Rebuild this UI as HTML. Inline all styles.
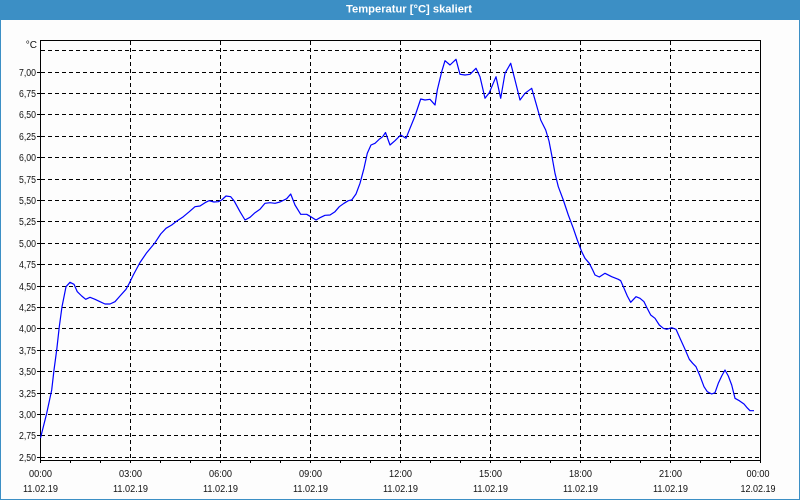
<!DOCTYPE html>
<html>
<head>
<meta charset="utf-8">
<style>
  html,body{margin:0;padding:0;background:#fdfdfd;}
  body{width:800px;height:500px;overflow:hidden;}
  svg{display:block;}
  text{font-family:"Liberation Sans","DejaVu Sans",sans-serif;}
</style>
</head>
<body>
<svg width="800" height="500" viewBox="0 0 800 500" xmlns="http://www.w3.org/2000/svg">
  <!-- background -->
  <rect x="0" y="0" width="800" height="500" fill="#fdfdfd"/>
  <!-- title bar -->
  <rect x="0" y="0" width="800" height="20" fill="#3c8fc5"/>
  <text x="409" y="12.5" font-size="11" font-weight="bold" fill="#ffffff" text-anchor="middle" textLength="126" lengthAdjust="spacingAndGlyphs">Temperatur [°C] skaliert</text>
  <!-- window border -->
  <rect x="0" y="20" width="1" height="480" fill="#3c8fc5"/>
  <rect x="799" y="20" width="1" height="480" fill="#3c8fc5"/>
  <rect x="0" y="499" width="800" height="1" fill="#3c8fc5"/>

  <!-- horizontal dashed gridlines -->
  <g stroke="#000" stroke-width="1" stroke-dasharray="4,3" shape-rendering="crispEdges" fill="none">
    <line x1="41" x2="760" y1="50.5" y2="50.5"/>
    <line x1="41" x2="760" y1="72.5" y2="72.5"/>
    <line x1="41" x2="760" y1="93.5" y2="93.5"/>
    <line x1="41" x2="760" y1="114.5" y2="114.5"/>
    <line x1="41" x2="760" y1="136.5" y2="136.5"/>
    <line x1="41" x2="760" y1="157.5" y2="157.5"/>
    <line x1="41" x2="760" y1="179.5" y2="179.5"/>
    <line x1="41" x2="760" y1="200.5" y2="200.5"/>
    <line x1="41" x2="760" y1="221.5" y2="221.5"/>
    <line x1="41" x2="760" y1="243.5" y2="243.5"/>
    <line x1="41" x2="760" y1="264.5" y2="264.5"/>
    <line x1="41" x2="760" y1="286.5" y2="286.5"/>
    <line x1="41" x2="760" y1="307.5" y2="307.5"/>
    <line x1="41" x2="760" y1="328.5" y2="328.5"/>
    <line x1="41" x2="760" y1="350.5" y2="350.5"/>
    <line x1="41" x2="760" y1="371.5" y2="371.5"/>
    <line x1="41" x2="760" y1="393.5" y2="393.5"/>
    <line x1="41" x2="760" y1="414.5" y2="414.5"/>
    <line x1="41" x2="760" y1="435.5" y2="435.5"/>
    <line x1="41" x2="760" y1="457.5" y2="457.5"/>
  </g>
  <!-- vertical dashed gridlines -->
  <g stroke="#000" stroke-width="1" stroke-dasharray="4,3" shape-rendering="crispEdges" fill="none">
    <line x1="130.5" x2="130.5" y1="41" y2="460"/>
    <line x1="220.5" x2="220.5" y1="41" y2="460"/>
    <line x1="310.5" x2="310.5" y1="41" y2="460"/>
    <line x1="400.5" x2="400.5" y1="41" y2="460"/>
    <line x1="490.5" x2="490.5" y1="41" y2="460"/>
    <line x1="580.5" x2="580.5" y1="41" y2="460"/>
    <line x1="670.5" x2="670.5" y1="41" y2="460"/>
  </g>

  <!-- axes box -->
  <g stroke="#000" stroke-width="1" shape-rendering="crispEdges" fill="none">
    <line x1="40.5" x2="40.5" y1="40" y2="463"/>
    <line x1="760.5" x2="760.5" y1="40" y2="463"/>
    <line x1="40" x2="761" y1="40.5" y2="40.5"/>
    <line x1="40" x2="761" y1="460.5" y2="460.5"/>
    <!-- left ticks -->
    <line x1="37" x2="40" y1="72.5" y2="72.5"/>
    <line x1="37" x2="40" y1="93.5" y2="93.5"/>
    <line x1="37" x2="40" y1="114.5" y2="114.5"/>
    <line x1="37" x2="40" y1="136.5" y2="136.5"/>
    <line x1="37" x2="40" y1="157.5" y2="157.5"/>
    <line x1="37" x2="40" y1="179.5" y2="179.5"/>
    <line x1="37" x2="40" y1="200.5" y2="200.5"/>
    <line x1="37" x2="40" y1="221.5" y2="221.5"/>
    <line x1="37" x2="40" y1="243.5" y2="243.5"/>
    <line x1="37" x2="40" y1="264.5" y2="264.5"/>
    <line x1="37" x2="40" y1="286.5" y2="286.5"/>
    <line x1="37" x2="40" y1="307.5" y2="307.5"/>
    <line x1="37" x2="40" y1="328.5" y2="328.5"/>
    <line x1="37" x2="40" y1="350.5" y2="350.5"/>
    <line x1="37" x2="40" y1="371.5" y2="371.5"/>
    <line x1="37" x2="40" y1="393.5" y2="393.5"/>
    <line x1="37" x2="40" y1="414.5" y2="414.5"/>
    <line x1="37" x2="40" y1="435.5" y2="435.5"/>
    <line x1="37" x2="40" y1="457.5" y2="457.5"/>
    <!-- bottom hourly ticks -->
    <line x1="70.5" x2="70.5" y1="461" y2="463"/>
    <line x1="100.5" x2="100.5" y1="461" y2="463"/>
    <line x1="130.5" x2="130.5" y1="461" y2="463"/>
    <line x1="160.5" x2="160.5" y1="461" y2="463"/>
    <line x1="190.5" x2="190.5" y1="461" y2="463"/>
    <line x1="220.5" x2="220.5" y1="461" y2="463"/>
    <line x1="250.5" x2="250.5" y1="461" y2="463"/>
    <line x1="280.5" x2="280.5" y1="461" y2="463"/>
    <line x1="310.5" x2="310.5" y1="461" y2="463"/>
    <line x1="340.5" x2="340.5" y1="461" y2="463"/>
    <line x1="370.5" x2="370.5" y1="461" y2="463"/>
    <line x1="400.5" x2="400.5" y1="461" y2="463"/>
    <line x1="430.5" x2="430.5" y1="461" y2="463"/>
    <line x1="460.5" x2="460.5" y1="461" y2="463"/>
    <line x1="490.5" x2="490.5" y1="461" y2="463"/>
    <line x1="520.5" x2="520.5" y1="461" y2="463"/>
    <line x1="550.5" x2="550.5" y1="461" y2="463"/>
    <line x1="580.5" x2="580.5" y1="461" y2="463"/>
    <line x1="610.5" x2="610.5" y1="461" y2="463"/>
    <line x1="640.5" x2="640.5" y1="461" y2="463"/>
    <line x1="670.5" x2="670.5" y1="461" y2="463"/>
    <line x1="700.5" x2="700.5" y1="461" y2="463"/>
    <line x1="730.5" x2="730.5" y1="461" y2="463"/>
  </g>

  <!-- y labels -->
  <g font-size="10" fill="#111" text-anchor="end">
    <text x="37" y="48">°C</text>
    <text x="36" y="76" textLength="17" lengthAdjust="spacingAndGlyphs">7,00</text>
    <text x="36" y="97" textLength="17" lengthAdjust="spacingAndGlyphs">6,75</text>
    <text x="36" y="118" textLength="17" lengthAdjust="spacingAndGlyphs">6,50</text>
    <text x="36" y="140" textLength="17" lengthAdjust="spacingAndGlyphs">6,25</text>
    <text x="36" y="161" textLength="17" lengthAdjust="spacingAndGlyphs">6,00</text>
    <text x="36" y="183" textLength="17" lengthAdjust="spacingAndGlyphs">5,75</text>
    <text x="36" y="204" textLength="17" lengthAdjust="spacingAndGlyphs">5,50</text>
    <text x="36" y="225" textLength="17" lengthAdjust="spacingAndGlyphs">5,25</text>
    <text x="36" y="247" textLength="17" lengthAdjust="spacingAndGlyphs">5,00</text>
    <text x="36" y="268" textLength="17" lengthAdjust="spacingAndGlyphs">4,75</text>
    <text x="36" y="290" textLength="17" lengthAdjust="spacingAndGlyphs">4,50</text>
    <text x="36" y="311" textLength="17" lengthAdjust="spacingAndGlyphs">4,25</text>
    <text x="36" y="332" textLength="17" lengthAdjust="spacingAndGlyphs">4,00</text>
    <text x="36" y="354" textLength="17" lengthAdjust="spacingAndGlyphs">3,75</text>
    <text x="36" y="375" textLength="17" lengthAdjust="spacingAndGlyphs">3,50</text>
    <text x="36" y="397" textLength="17" lengthAdjust="spacingAndGlyphs">3,25</text>
    <text x="36" y="418" textLength="17" lengthAdjust="spacingAndGlyphs">3,00</text>
    <text x="36" y="439" textLength="17" lengthAdjust="spacingAndGlyphs">2,75</text>
    <text x="36" y="461" textLength="17" lengthAdjust="spacingAndGlyphs">2,50</text>
  </g>

  <!-- x labels -->
  <g font-size="10" fill="#111" text-anchor="middle">
    <text x="40.5" y="477" textLength="23" lengthAdjust="spacingAndGlyphs">00:00</text>
    <text x="40.5" y="492" textLength="35" lengthAdjust="spacingAndGlyphs">11.02.19</text>
    <text x="130.5" y="477" textLength="23" lengthAdjust="spacingAndGlyphs">03:00</text>
    <text x="130.5" y="492" textLength="35" lengthAdjust="spacingAndGlyphs">11.02.19</text>
    <text x="220.5" y="477" textLength="23" lengthAdjust="spacingAndGlyphs">06:00</text>
    <text x="220.5" y="492" textLength="35" lengthAdjust="spacingAndGlyphs">11.02.19</text>
    <text x="310.5" y="477" textLength="23" lengthAdjust="spacingAndGlyphs">09:00</text>
    <text x="310.5" y="492" textLength="35" lengthAdjust="spacingAndGlyphs">11.02.19</text>
    <text x="400.5" y="477" textLength="23" lengthAdjust="spacingAndGlyphs">12:00</text>
    <text x="400.5" y="492" textLength="35" lengthAdjust="spacingAndGlyphs">11.02.19</text>
    <text x="490.5" y="477" textLength="23" lengthAdjust="spacingAndGlyphs">15:00</text>
    <text x="490.5" y="492" textLength="35" lengthAdjust="spacingAndGlyphs">11.02.19</text>
    <text x="580.5" y="477" textLength="23" lengthAdjust="spacingAndGlyphs">18:00</text>
    <text x="580.5" y="492" textLength="35" lengthAdjust="spacingAndGlyphs">11.02.19</text>
    <text x="670.5" y="477" textLength="23" lengthAdjust="spacingAndGlyphs">21:00</text>
    <text x="670.5" y="492" textLength="35" lengthAdjust="spacingAndGlyphs">11.02.19</text>
    <text x="758" y="477" textLength="23" lengthAdjust="spacingAndGlyphs">00:00</text>
    <text x="758" y="492" textLength="35" lengthAdjust="spacingAndGlyphs">12.02.19</text>
  </g>

  <!-- data series -->
  <polyline fill="none" stroke="#0000ff" stroke-width="1.2" stroke-linejoin="round" points="
40.5,438 46.7,413.3 51.7,390 54,370 56.7,350 59.3,326.7 62,306.7 66,286.7 70,282.3 74,284.3 77.3,291.7 81.7,296 85.7,299.3 90,297.3 95,299.3 100,301.7 105,304 110,304 115,301.7 120,296 126,289.3 129.3,283.3 133.3,275 140,262.5 146.7,252.7 155,242.7 160.7,234 166,228.3 171.7,225 177.3,220.7 183.3,216.7 189.3,211.7 195,206.7 200,206 205,202.7 209,200.7 214,202 218.3,201.7 221.7,200 226,196 230.7,196.7 234,200.7 240,211.7 245,220 250,217.3 255,212.7 260,209.3 265,203.3 270,202.7 275,203.3 280,202 286.7,198.7 290.7,194 295,205 300.7,214.3 306.7,214.3 310.7,216.7 316,220 320,217.7 325,215.3 330,215 335,211.7 339.3,206.7 344,203.3 348.3,200.7 351.7,200 356,194 360,183.3 364,168.3 367.3,153.3 371,145 375,143.3 379.5,139 382.7,136.7 385.5,132.5 390,145 395,140.7 400.7,135 406,138.3 410,128.3 415,116 420.7,99 425,100 430,99.3 435,105 437.3,90 441.7,71.7 445,60.7 450,65 456,59.3 460,74.3 465,75 470,74.3 476,68.3 480,76.7 485,98.3 489.3,92.7 496,76.7 500.7,98.3 505,73.3 510.7,63.3 515,80 520,100 525,93.3 531.7,88.3 536,103.3 540.7,120 545.7,130 549,141 551.7,155 555,173.3 558.3,186.7 563.3,200 568.3,215 573.3,228.3 577.3,240 581.7,251.7 585,258.3 589.3,263.3 592.7,270 595,275 599.3,277 605,273.3 611.7,276.7 618.3,279.3 620.7,280.7 624,288.3 627.3,296 630.7,302.3 636,296.7 640,298.3 644,301.7 646.7,307.3 650.7,315 655,318.3 659.3,325 663.3,328.3 666.7,329.3 671.7,327.7 676,329.3 680,338.3 685,349.3 689.3,359.3 692.7,363.3 696,366.7 700,376 704,386.7 707.3,391.7 711.7,394 715,392.7 718.3,383.3 721.7,376 725,370 728.3,376 731.7,385 735,398.3 739.3,400.7 744,404 746.7,407.3 750,410.7 754,410.7"/>
</svg>
</body>
</html>
